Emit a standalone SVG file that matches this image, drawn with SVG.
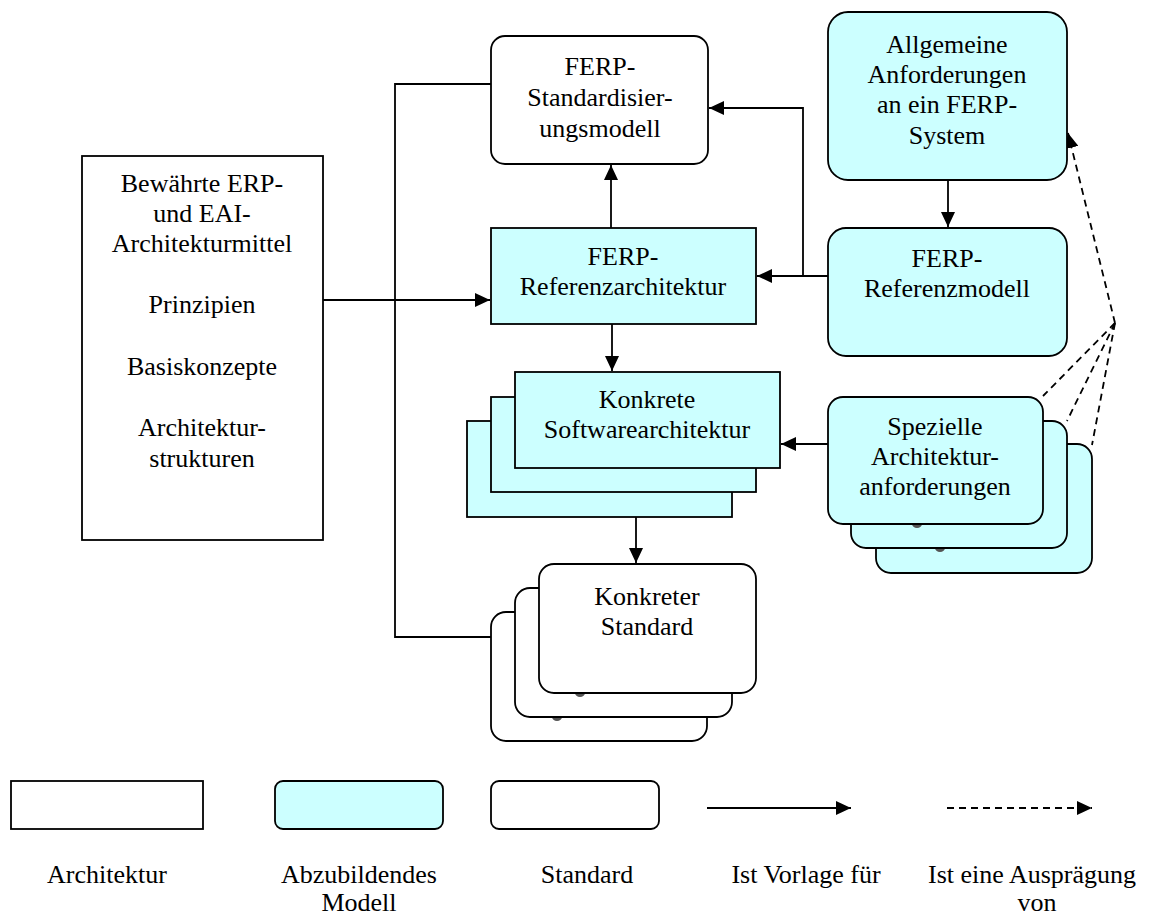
<svg xmlns="http://www.w3.org/2000/svg" width="1149" height="919" viewBox="0 0 1149 919">
  <style>
    .box { stroke: #000; stroke-width: 1.8; }
    .arch { fill: #fff; }
    .model { fill: #ccffff; }
    .std { fill: #fff; }
    .lbl { font-family: "Liberation Serif", "Times New Roman", serif; font-size: 26px; fill: #000; text-anchor: middle; }
    .edge { fill: none; stroke: #000; stroke-width: 1.8; }
    .dash { fill: none; stroke: #000; stroke-width: 1.8; stroke-dasharray: 7 5; }
    .blob { fill: #555; }
  </style>
  <defs>
    <marker id="arrow" markerUnits="userSpaceOnUse" markerWidth="16" markerHeight="14" refX="15" refY="7" orient="auto">
      <path d="M0,0 L15,7 L0,14 Z" fill="#000"/>
    </marker>
  </defs>

  <rect width="1149" height="919" fill="#fff"/>

  <!-- connectors -->
  <g id="connectors">
    <path class="edge" d="M323,300 H490" marker-end="url(#arrow)"/>
    <path class="edge" d="M611,228 V165" marker-end="url(#arrow)"/>
    <path class="edge" d="M828,276 H757" marker-end="url(#arrow)"/>
    <path class="edge" d="M803,276 V108 H709" marker-end="url(#arrow)"/>
    <path class="edge" d="M948,180 V227" marker-end="url(#arrow)"/>
    <path class="edge" d="M612,324 V371" marker-end="url(#arrow)"/>
    <path class="edge" d="M491,84 H395 V637 H538" marker-end="url(#arrow)"/>
    <path class="edge" d="M828,444 H781" marker-end="url(#arrow)"/>
    <path class="edge" d="M636,468 V563" marker-end="url(#arrow)"/>
    <path class="dash" d="M1115,323 L1068,133" marker-end="url(#arrow)"/>
    <path class="dash" d="M1115,323 L1043,396"/>
    <path class="dash" d="M1115,323 L1067,421"/>
    <path class="dash" d="M1115,323 L1092,445"/>
  </g>

  <!-- architecture building blocks -->
  <g id="node-architekturmittel">
    <rect class="box arch" x="82" y="156" width="241" height="384"/>
    <text class="lbl" x="202" y="192">Bewährte ERP-</text>
    <text class="lbl" x="202" y="222">und EAI-</text>
    <text class="lbl" x="202" y="252">Architekturmittel</text>
    <text class="lbl" x="202" y="313">Prinzipien</text>
    <text class="lbl" x="202" y="375">Basiskonzepte</text>
    <text class="lbl" x="202" y="436">Architektur-</text>
    <text class="lbl" x="202" y="467">strukturen</text>
  </g>

  <g id="node-standardisierungsmodell">
    <rect class="box std" x="491" y="36" width="217" height="128" rx="14"/>
    <text class="lbl" x="600" y="75">FERP-</text>
    <text class="lbl" x="600" y="106">Standardisier-</text>
    <text class="lbl" x="600" y="137">ungsmodell</text>
  </g>

  <g id="node-referenzarchitektur">
    <rect class="box model" x="491" y="228" width="265" height="96"/>
    <text class="lbl" x="623" y="265">FERP-</text>
    <text class="lbl" x="623" y="295">Referenzarchitektur</text>
  </g>

  <g id="node-allgemeine-anforderungen">
    <rect class="box model" x="828" y="12" width="239" height="168" rx="20"/>
    <text class="lbl" x="947" y="53">Allgemeine</text>
    <text class="lbl" x="947" y="83">Anforderungen</text>
    <text class="lbl" x="947" y="113">an ein FERP-</text>
    <text class="lbl" x="947" y="144">System</text>
  </g>

  <g id="node-referenzmodell">
    <rect class="box model" x="828" y="228" width="239" height="128" rx="18"/>
    <text class="lbl" x="947" y="267">FERP-</text>
    <text class="lbl" x="947" y="297">Referenzmodell</text>
  </g>

  <g id="node-softwarearchitektur">
    <rect class="box model" x="467" y="421" width="265" height="96"/>
    <rect class="box model" x="491" y="397" width="265" height="95"/>
    <rect class="box model" x="515" y="372" width="265" height="96"/>
    <text class="lbl" x="647" y="408">Konkrete</text>
    <text class="lbl" x="647" y="438">Softwarearchitektur</text>
  </g>

  <g id="node-architekturanforderungen">
    <rect class="box model" x="876" y="444" width="216" height="129" rx="15"/>
    <ellipse class="blob" cx="940" cy="548" rx="5" ry="4"/>
    <rect class="box model" x="851" y="421" width="216" height="127" rx="15"/>
    <ellipse class="blob" cx="917" cy="524" rx="5" ry="4"/>
    <rect class="box model" x="828" y="397" width="215" height="127" rx="15"/>
    <text class="lbl" x="935" y="435">Spezielle</text>
    <text class="lbl" x="935" y="465">Architektur-</text>
    <text class="lbl" x="935" y="495">anforderungen</text>
  </g>

  <g id="node-konkreter-standard">
    <rect class="box std" x="491" y="612" width="216" height="129" rx="15"/>
    <ellipse class="blob" cx="557" cy="717" rx="5" ry="4"/>
    <rect class="box std" x="515" y="588" width="217" height="129" rx="15"/>
    <ellipse class="blob" cx="580" cy="693" rx="5" ry="4"/>
    <rect class="box std" x="539" y="564" width="217" height="129" rx="15"/>
    <text class="lbl" x="647" y="605">Konkreter</text>
    <text class="lbl" x="647" y="635">Standard</text>
  </g>

  <!-- legend -->
  <g id="legend">
    <rect class="box arch" x="11" y="781" width="192" height="48"/>
    <rect class="box model" x="275" y="781" width="168" height="48" rx="8"/>
    <rect class="box std" x="491" y="781" width="168" height="48" rx="8"/>
    <path class="edge" d="M707,808 H851" marker-end="url(#arrow)"/>
    <path class="dash" d="M947,808 H1092" marker-end="url(#arrow)"/>
    <text class="lbl" x="107" y="883">Architektur</text>
    <text class="lbl" x="359" y="883">Abzubildendes</text>
    <text class="lbl" x="359" y="911">Modell</text>
    <text class="lbl" x="587" y="883">Standard</text>
    <text class="lbl" x="806" y="883">Ist Vorlage für</text>
    <text class="lbl" x="1032" y="883">Ist eine Ausprägung</text>
    <text class="lbl" x="1037" y="911">von</text>
  </g>
</svg>
